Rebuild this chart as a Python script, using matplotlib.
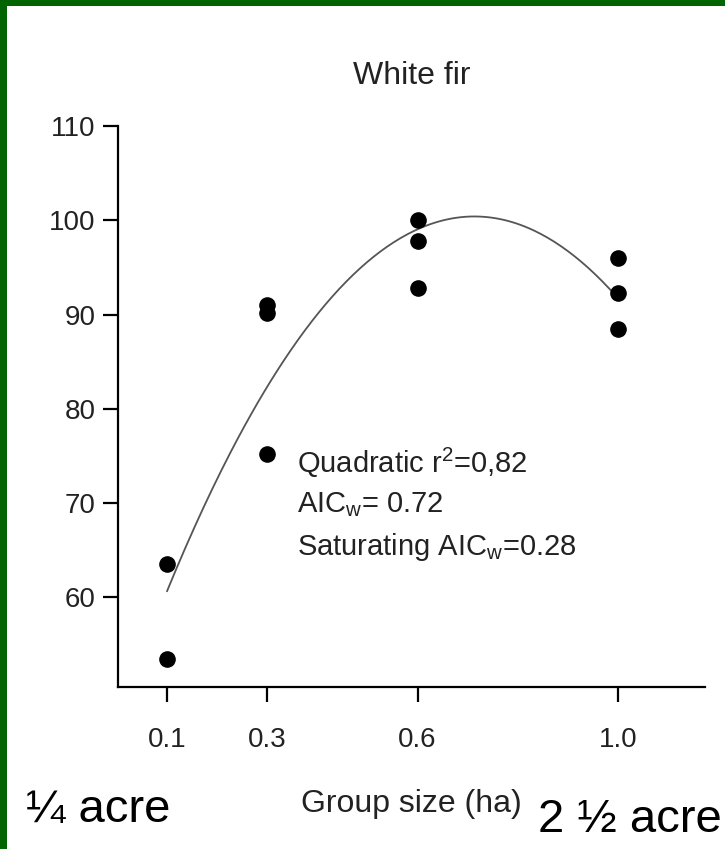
import numpy as np
import matplotlib
matplotlib.use("Agg")
import matplotlib.pyplot as plt
from matplotlib.patches import Rectangle

plt.rcParams['font.family'] = ['Liberation Sans', 'DejaVu Sans']

# data
group_size = [0.1, 0.1, 0.3, 0.3, 0.3, 0.6, 0.6, 0.6, 1.0, 1.0, 1.0]
growth = [63.5, 53.5, 91.0, 90.2, 75.2, 100.0, 97.8, 92.8, 96.0, 92.3, 88.5]
xticks = [0.1, 0.3, 0.6, 1.0]
xtick_labels = ['0.1', '0.3', '0.6', '1.0']
yticks = [60, 70, 80, 90, 100, 110]
notes = ['Quadratic r$^\\mathregular{2}$=0,82', 'AIC$_\\mathregular{w}$= 0.72',
         'Saturating AIC$_\\mathregular{w}$=0.28']

fig = plt.figure(figsize=(7.25, 8.49), dpi=100)
fig.patch.set_facecolor('#006400')
# white panel, green only on top and left
fig.patches.append(Rectangle((7/725, 0), 1, 1 - 6/849, transform=fig.transFigure,
                             facecolor='white', edgecolor='none', zorder=-5))

ax = fig.add_axes([118/725, 1 - 687/849, (705 - 118)/725, (687 - 126)/849])
ax.set_zorder(2)
ax.set_facecolor('none')

# quadratic fit through the points
coef = np.polyfit(group_size, growth, 2)
xs = np.linspace(0.1, 1.0, 200)
ax.plot(xs, np.polyval(coef, xs), color='#555555', lw=1.3, zorder=2)
ax.scatter(group_size, growth, s=120, color='black', zorder=3)

ax.set_xlim(0.002, 1.174)
ax.set_ylim(50.5, 110)
ax.set_xticks(xticks)
ax.set_xticklabels(xtick_labels)
ax.set_yticks(yticks)
for s in ['top', 'right']:
    ax.spines[s].set_visible(False)
for s in ['left', 'bottom']:
    ax.spines[s].set_linewidth(1.6)
ax.tick_params(length=11, width=1.6, labelsize=20, colors='black', labelcolor='#222222', pad=18)
ax.tick_params(axis='y', pad=5)

ax.set_title('White fir', fontsize=23, color='#222222', pad=30)
ax.set_xlabel('Group size (ha)', fontsize=23, color='#222222', labelpad=26)

for i, t in enumerate(notes):
    ax.text(0.36, 74.3 - 4.45 * i, t, fontsize=21, color='#222222', va='center')

fig.text(26/725, 1 - 810/849, '¼ acre', fontsize=34, va='center', ha='left')
fig.text(722/725, 1 - 820/849, '2 ½ acre', fontsize=34, va='center', ha='right')

fig.savefig('out.png', dpi=100, facecolor=fig.get_facecolor())
